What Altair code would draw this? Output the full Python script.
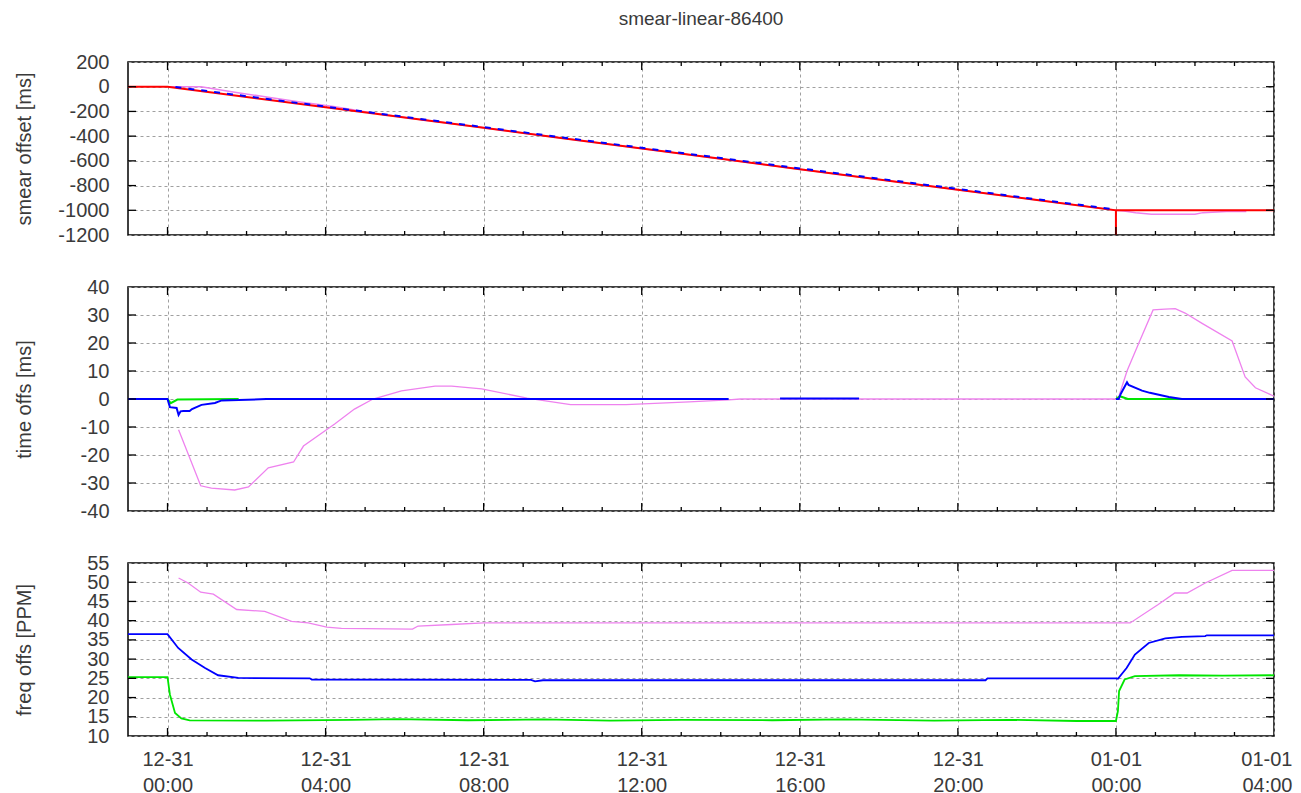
import altair as alt
import pandas as pd

FONT = "Liberation Sans"
TXT = "#3a3a3a"
PINK = "#ee82ee"
BLUE = "#0000ff"
GREEN = "#00e600"
RED = "#ff0000"

W = 1146
H1, H2, H3 = 173, 224, 173

# ---------------- axis ticks / labels ----------------
x_major_ticks = [0, 4, 8, 12, 16, 20, 24, 28]
x_minor_ticks = [1, 2, 3, 5, 6, 7, 9, 10, 11, 13, 14, 15, 17, 18, 19, 21, 22, 23, 25, 26, 27]
x_tick_dates = ["12-31", "12-31", "12-31", "12-31", "12-31", "12-31", "01-01", "01-01"]
x_tick_times = ["00:00", "04:00", "08:00", "12:00", "16:00", "20:00", "00:00", "04:00"]
x_domain = [-1, 28]

y1_ticks = [-1200, -1000, -800, -600, -400, -200, 0, 200]
y2_ticks = [-40, -30, -20, -10, 0, 10, 20, 30, 40]
y3_ticks = [10, 15, 20, 25, 30, 35, 40, 45, 50, 55]

# ---------------- panel 1: smear offset [ms] ----------------
p1_red_h = [-1, 0, 2, 4, 6, 8, 10, 12, 14, 16, 18, 20, 22, 24, 24, 24, 28]
p1_red_v = [0, 0, -83, -167, -250, -333, -417, -500, -583, -667, -750, -833, -917, -1000, -1200, -1000, -1000]
p1_blue_h = [0.2, 2, 4, 6, 8, 10, 12, 14, 16, 18, 20, 22, 24]
p1_blue_v = [-2, -77, -161, -244, -327, -411, -494, -577, -661, -744, -827, -911, -994]
p1_pink_h = [0, 0.85, 1.7, 2.55, 3.4, 4.2, 5.0, 6.0, 8, 12, 16, 20, 24, 24.2, 24.5, 24.9, 26.0, 26.2, 26.8, 27.3]
p1_pink_v = [0, 0, -45, -85, -125, -160, -203, -250, -333, -500, -667, -833, -1000, -1005, -1019, -1032, -1032, -1019, -1010, -1010]

# ---------------- panel 2: time offs [ms] ----------------
p2_pink_h = [0.28, 0.84, 1.11, 1.7, 2.05, 2.55, 3.19, 3.44, 4.23, 4.73, 5.2, 5.92, 6.77, 7.19, 7.95,
             9.1, 10.2, 11.6, 13.2, 14.2, 14.5, 24.0, 24.07, 24.28, 24.58, 24.94, 25.24, 25.5, 25.75,
             26.18, 26.94, 27.27, 27.53, 28.0]
p2_pink_v = [-11, -31, -31.8, -32.5, -31.4, -24.6, -22.5, -16.8, -8.9, -3.6, 0, 2.9, 4.6, 4.6, 3.6,
             0.3, -2, -2, -1, -0.3, 0, 0, 0.7, 10, 20, 31.8, 32.1, 32.3, 30.7,
             27, 20.7, 7.9, 4, 1]
p2_green_h = [0, 0.08, 0.25, 1.8, 24.0, 24.1, 24.3, 25.67]
p2_green_v = [0, -1.5, -0.2, 0, 0, 1, 0, 0]
p2_green_s = [0, 0, 0, 0, 1, 1, 1, 1]
p2_blue_h = [-1, 0, 0.06, 0.23, 0.28, 0.33, 0.4, 0.56, 0.62, 0.86, 1.2, 1.37, 1.8, 2.5, 14.2,
             15.5, 17.5,
             24.0, 24.07, 24.12, 24.28, 24.32, 24.66, 24.86, 25.0, 25.34, 25.67, 28]
p2_blue_v = [0, 0, -2.9, -3.2, -5.7, -4.4, -4.3, -4.3, -3.6, -2.1, -1.4, -0.5, -0.4, 0, 0,
             0.2, 0.2,
             0, 0, 1.8, 6, 5, 3, 2.2, 1.8, 0.7, 0, 0]
p2_blue_s = [0] * 15 + [1] * 2 + [2] * 11

# ---------------- panel 3: freq offs [PPM] ----------------
p3_pink_h = [0.28, 0.52, 0.84, 1.16, 1.75, 2.46, 3.14, 3.56, 4.03, 4.4, 6.2, 6.34, 7.19, 8.0,
             24.36, 25.07, 25.49, 25.8, 26.26, 26.94, 28]
p3_pink_v = [51.1, 49.8, 47.4, 46.9, 42.9, 42.4, 39.8, 39.4, 38.3, 38.0, 37.8, 38.6, 39.0, 39.4,
             39.4, 44.2, 47.2, 47.2, 49.8, 53.1, 53.1]
p3_blue_h = [-1, 0, 0.27, 0.61, 0.95, 1.28, 1.79, 3.6, 3.65, 9.2, 9.3, 9.5, 20.7, 20.75, 24.0,
             24.05, 24.27, 24.48, 24.83, 25.25, 25.67, 26.26, 26.3, 28]
p3_blue_v = [36.5, 36.5, 32.9, 29.9, 27.7, 25.8, 25.1, 25.0, 24.7, 24.6, 24.2, 24.5, 24.5, 25.0, 25.0,
             24.9, 27.7, 31.2, 34.2, 35.4, 35.8, 36.0, 36.2, 36.2]
p3_green_h = [-1, 0, 0.06, 0.19, 0.35, 0.56, 2.5, 4.7, 5.8, 7.6, 9.5, 11.2, 13.0, 15.3, 17.1, 19.4,
              21.3, 23.0, 24.0, 24.05, 24.08, 24.22, 24.48, 25.6, 26.7, 28]
p3_green_v = [25.3, 25.3, 20.8, 16.0, 14.6, 14.05, 14.0, 14.2, 14.4, 14.1, 14.3, 14.0, 14.2, 14.1, 14.3, 14.0,
              14.2, 13.9, 13.9, 16.5, 21.7, 24.7, 25.6, 25.8, 25.7, 25.8]

label_expr = "[" + ", ".join("['%s', '%s']" % (d, t) for d, t in zip(x_tick_dates, x_tick_times)) + "]" \
    + "[indexof([" + ", ".join(str(v) for v in x_major_ticks) + "], datum.value)]"

xscale = alt.Scale(domain=x_domain, nice=False, zero=False)


def x_axis(show_labels):
    if show_labels:
        return alt.Axis(values=x_major_ticks, title=None, grid=True, ticks=False, tickSize=0,
                        domain=False, labelExpr=label_expr, labelPadding=13, labelLineHeight=26,
                        labelFlush=True, labelFlushOffset=18, labelOverlap=False)
    return alt.Axis(values=x_major_ticks, title=None, grid=True, ticks=False, tickSize=0,
                    domain=False, labels=False, minExtent=0, maxExtent=0)


def y_axis(ticks, title):
    return alt.Axis(values=ticks, title=title, grid=True, ticks=False, tickSize=0, domain=False,
                    labelPadding=19, minExtent=80, maxExtent=80, titlePadding=14,
                    labelOverlap=False, labelExpr="'' + datum.value")


def panel(series, ydom, yticks, ytitle, height, show_x):
    xa = x_axis(show_x)
    ya = y_axis(yticks, ytitle)
    ys = alt.Scale(domain=ydom, nice=False, zero=False)
    layers = []
    for h, v, s, color, width, dash in series:
        df = pd.DataFrame({"h": h, "v": v, "seg": s if s else [0] * len(h), "i": list(range(len(h)))})
        mk = dict(color=color, strokeWidth=width, clip=True)
        if dash:
            mk["strokeDash"] = dash
        layers.append(
            alt.Chart(df).mark_line(**mk).encode(
                x=alt.X("h:Q", scale=xscale, axis=xa),
                y=alt.Y("v:Q", scale=ys, axis=ya),
                detail="seg:N",
                order="i:Q",
            )
        )
    # inward ticks (gnuplot style)
    maj = pd.DataFrame({"h": x_major_ticks[:-1]})
    mnr = pd.DataFrame({"h": x_minor_ticks})
    for df, L in ((maj, 8), (mnr, 4)):
        layers.append(alt.Chart(df).mark_rule(color="black", strokeWidth=1.3).encode(
            x=alt.X("h:Q", scale=xscale, axis=xa), y=alt.value(0), y2=alt.value(L)))
        layers.append(alt.Chart(df).mark_rule(color="black", strokeWidth=1.3).encode(
            x=alt.X("h:Q", scale=xscale, axis=xa), y=alt.value(height), y2=alt.value(height - L)))
    ydf = pd.DataFrame({"v": yticks[1:-1]})
    layers.append(alt.Chart(ydf).mark_rule(color="black", strokeWidth=1.3).encode(
        y=alt.Y("v:Q", scale=ys, axis=ya), x=alt.value(0), x2=alt.value(8)))
    layers.append(alt.Chart(ydf).mark_rule(color="black", strokeWidth=1.3).encode(
        y=alt.Y("v:Q", scale=ys, axis=ya), x=alt.value(W), x2=alt.value(W - 8)))
    return alt.layer(*layers).properties(width=W, height=height)


p1 = panel([
    (p1_pink_h, p1_pink_v, None, PINK, 1.5, None),
    (p1_red_h, p1_red_v, None, RED, 2, None),
    (p1_blue_h, p1_blue_v, None, BLUE, 2, [6, 7]),
], [-1200, 200], y1_ticks, "smear offset [ms]", H1, False).properties(
    title=alt.TitleParams("smear-linear-86400", anchor="middle", frame="group", offset=23,
                          fontSize=19, font=FONT, fontWeight="normal", color=TXT))

p2 = panel([
    (p2_pink_h, p2_pink_v, None, PINK, 1.3, None),
    (p2_green_h, p2_green_v, p2_green_s, GREEN, 2, None),
    (p2_blue_h, p2_blue_v, p2_blue_s, BLUE, 2, None),
], [-40, 40], y2_ticks, "time offs [ms]", H2, False)

p3 = panel([
    (p3_pink_h, p3_pink_v, None, PINK, 1.3, None),
    (p3_blue_h, p3_blue_v, None, BLUE, 1.8, None),
    (p3_green_h, p3_green_v, None, GREEN, 1.8, None),
], [10, 55], y3_ticks, "freq offs [PPM]", H3, True)

chart = alt.vconcat(p1, p2, p3, spacing=30).properties(
    padding={"left": 5, "top": 1, "right": 0, "bottom": 0}
).configure_view(
    stroke="#000000", strokeWidth=1.5
).configure_axis(
    labelFont=FONT, titleFont=FONT, labelFontSize=20, titleFontSize=20,
    labelColor=TXT, titleColor=TXT, titleFontWeight="normal",
    gridColor="#a0a0a0", gridDash=[3, 3], gridWidth=1, gridOpacity=1
)

chart.save("out.html", embed_options={"renderer": "svg", "actions": False})
